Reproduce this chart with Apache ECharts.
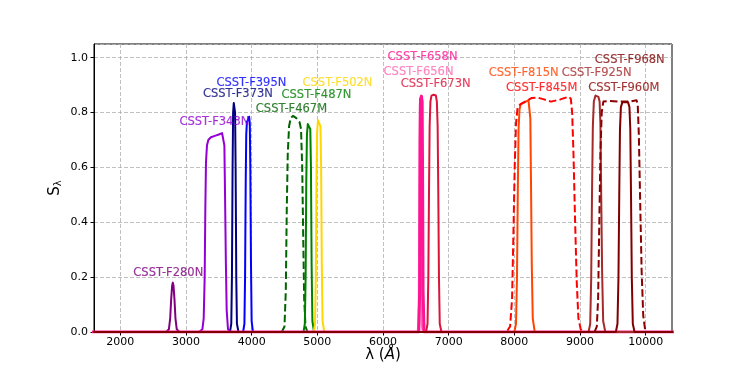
<!DOCTYPE html>
<html>
<head>
<meta charset="utf-8">
<script src="https://cdn.jsdelivr.net/npm/echarts@6/dist/echarts.min.js"></script>
<style>html,body{margin:0;padding:0;background:#fff}#c{width:747px;height:374px}</style>
</head>
<body>
<div id="c"></div>
<script>
// ---- data: wavelength (Å), throughput S ----
const xTicks = [2000, 3000, 4000, 5000, 6000, 7000, 8000, 9000, 10000];
const yTicks = [0, 0.2, 0.4, 0.6, 0.8, 1.0];

const F280N = [[2700,0],[2740,0.01],[2760,0.05],[2775,0.12],[2790,0.17],[2800,0.18],[2810,0.17],[2825,0.12],[2840,0.05],[2860,0.01],[2900,0]];
const F343N = [[3200,0],[3250,0.01],[3270,0.05],[3285,0.2],[3295,0.45],[3305,0.62],[3320,0.68],[3340,0.70],[3380,0.71],[3440,0.715],[3500,0.72],[3550,0.725],[3570,0.72],[3585,0.68],[3595,0.5],[3608,0.25],[3620,0.08],[3640,0.01],[3670,0]];
const F373N = [[3670,0],[3690,0.03],[3700,0.2],[3710,0.6],[3718,0.8],[3728,0.835],[3740,0.83],[3748,0.8],[3756,0.6],[3766,0.2],[3776,0.03],[3800,0]];
const F395N = [[3870,0],[3890,0.03],[3900,0.2],[3910,0.55],[3918,0.72],[3928,0.765],[3945,0.775],[3962,0.785],[3972,0.76],[3980,0.6],[3990,0.25],[4000,0.04],[4020,0]];
const F467M = [[4460,0],[4500,0.02],[4520,0.15],[4535,0.45],[4550,0.65],[4570,0.75],[4595,0.78],[4630,0.788],[4680,0.78],[4730,0.765],[4752,0.74],[4770,0.6],[4785,0.35],[4800,0.12],[4820,0.02],[4850,0]];
const F487N = [[4790,0],[4810,0.03],[4822,0.2],[4832,0.55],[4842,0.72],[4855,0.758],[4880,0.762],[4893,0.74],[4903,0.6],[4913,0.25],[4925,0.04],[4950,0]];
const F502N = [[4945,0],[4965,0.03],[4977,0.2],[4987,0.55],[4997,0.73],[5010,0.772],[5035,0.775],[5048,0.75],[5058,0.6],[5068,0.25],[5080,0.04],[5105,0]];
const F656N = [[6530,0],[6545,0.1],[6553,0.55],[6559,0.82],[6565,0.85],[6571,0.8],[6578,0.4],[6590,0.03],[6605,0]];
const F658N = [[6545,0],[6558,0.15],[6566,0.7],[6572,0.85],[6585,0.86],[6596,0.84],[6602,0.6],[6610,0.15],[6625,0]];
const F673N = [[6655,0],[6678,0.03],[6690,0.2],[6700,0.5],[6710,0.75],[6722,0.84],[6738,0.862],[6770,0.865],[6805,0.862],[6820,0.84],[6832,0.75],[6842,0.5],[6852,0.2],[6864,0.03],[6890,0]];
const F815N = [[8000,0],[8025,0.03],[8040,0.2],[8052,0.5],[8064,0.74],[8078,0.81],[8095,0.83],[8160,0.838],[8215,0.845],[8232,0.84],[8243,0.78],[8253,0.55],[8265,0.25],[8280,0.05],[8310,0]];
const F845M = [[7880,0],[7935,0.02],[7965,0.12],[7985,0.35],[8005,0.6],[8025,0.76],[8050,0.82],[8100,0.832],[8150,0.838],[8260,0.853],[8350,0.855],[8450,0.848],[8560,0.84],[8700,0.848],[8830,0.858],[8860,0.85],[8880,0.8],[8900,0.65],[8925,0.4],[8950,0.18],[8975,0.05],[9010,0.01],[9040,0]];
const F925N = [[9130,0],[9155,0.03],[9170,0.2],[9182,0.5],[9195,0.75],[9210,0.84],[9235,0.862],[9280,0.857],[9298,0.84],[9310,0.76],[9322,0.5],[9336,0.22],[9352,0.04],[9385,0]];
const F960M = [[9220,0],[9255,0.02],[9275,0.12],[9292,0.38],[9310,0.65],[9330,0.8],[9355,0.84],[9450,0.842],[9600,0.84],[9750,0.84],[9860,0.845],[9878,0.83],[9895,0.72],[9915,0.48],[9938,0.22],[9962,0.06],[9990,0.01],[10020,0]];
const F968N = [[9545,0],[9570,0.03],[9585,0.2],[9597,0.5],[9608,0.74],[9622,0.82],[9645,0.838],[9730,0.838],[9752,0.82],[9765,0.74],[9776,0.5],[9788,0.2],[9803,0.03],[9830,0]];

const filterNames = ['CSST-F280N','CSST-F343N','CSST-F373N','CSST-F395N','CSST-F467M','CSST-F487N','CSST-F502N','CSST-F656N','CSST-F658N','CSST-F673N','CSST-F815N','CSST-F845M','CSST-F925N','CSST-F960M','CSST-F968N'];
const filterData = [F280N,F343N,F373N,F395N,F467M,F487N,F502N,F656N,F658N,F673N,F815N,F845M,F925N,F960M,F968N];
// label anchor (λ, S) for each filter name
const labelLambda = [2731, 3433, 3791, 3996, 4606, 4987, 5307, 6541, 6602, 6801, 8142, 8416, 9254, 9666, 9757];
const labelS      = [0.215, 0.766, 0.869, 0.909, 0.814, 0.865, 0.909, 0.949, 1.004, 0.905, 0.945, 0.891, 0.945, 0.891, 0.993];

// ---- styles ----
const colors = ['#800080','#9400d3','#000080','#0000ff','#006400','#008000','#ffd700','#ff69b4','#ff1493','#dc143c','#ff4500','#ff0000','#a52a2a','#8b0000','#800000'];
const dashed = [false,false,false,false,true,false,false,false,false,false,false,true,false,true,false];
const widths = [2,2,2,2,2,2,2,2,3,2,2,2,2,2,2];

const series = [];
filterData.forEach((d, i) => {
  series.push({
    type: 'line', name: filterNames[i],
    data: [[1000,0]].concat(d).concat([[11000,0]]),
    showSymbol: false, symbol: 'none', smooth: false,
    lineStyle: { color: colors[i], width: widths[i], type: dashed[i] ? [7.5, 3.3] : 'solid', join: 'round', cap: 'butt' },
    z: 2 + i, silent: true, animation: false
  });
});
series.push({
  type: 'scatter', symbolSize: 0, silent: true, animation: false, z: 30,
  data: labelLambda.map((x, i) => ({
    value: [x, labelS[i]],
    label: { show: true, formatter: filterNames[i], color: colors[i], textBorderColor: colors[i], textBorderWidth: 0.15 }
  })),
  label: { show: true, position: 'inside', align: 'center', verticalAlign: 'middle',
           fontFamily: 'DejaVu Sans', fontSize: 11.5, textShadowBlur: 0 }
});

const chart = echarts.init(document.getElementById('c'), null, { renderer: 'canvas' });
chart.setOption({
  animation: false,
  backgroundColor: '#fff',
  grid: { left: 94, right: 75, top: 44, bottom: 42, show: true, borderColor: '#000', borderWidth: 1, backgroundColor: 'transparent' },
  xAxis: {
    type: 'value', min: 1600, max: 10400,
    name: '{l|λ (}{a|Å}{l|)}', nameLocation: 'middle', nameGap: 16, nameMoveOverlap: false,
    nameTextStyle: { verticalAlign: 'top', rich: {
      l: { fontFamily: 'DejaVu Sans', fontSize: 15, color: '#000' },
      a: { fontFamily: 'DejaVu Sans', fontSize: 15, fontStyle: 'italic', color: '#000' } } },
    axisLine: { show: true, lineStyle: { color: '#000', width: 1 } },
    axisTick: { show: true, length: 3.5, lineStyle: { color: '#000' }, customValues: xTicks },
    axisLabel: { customValues: xTicks, color: '#000', fontFamily: 'DejaVu Sans', fontSize: 11, margin: 5,
                 formatter: v => String(Math.round(v)) },
    splitLine: { show: true, lineStyle: { color: '#b0b0b0', type: [4, 2], width: 0.8 } }
  },
  yAxis: {
    type: 'value', min: 0, max: 1.05, interval: 0.2,
    name: '{s|S}{sub|λ}', nameLocation: 'middle', nameGap: 31, nameRotate: 90, nameMoveOverlap: false,
    nameTextStyle: { rich: {
      s: { fontFamily: 'DejaVu Sans', fontSize: 15, color: '#000' },
      sub: { fontFamily: 'DejaVu Sans', fontSize: 10, color: '#000', verticalAlign: 'bottom', padding: [6,0,0,0] } } },
    axisLine: { show: true, lineStyle: { color: '#000', width: 1 } },
    axisTick: { show: true, length: 3.5, lineStyle: { color: '#000' } },
    axisLabel: { showMaxLabel: false, color: '#000', fontFamily: 'DejaVu Sans', fontSize: 11, margin: 6,
                 formatter: v => v.toFixed(1) },
    splitLine: { show: true, lineStyle: { color: '#b0b0b0', type: [4, 2], width: 0.8 } }
  },
  series: series
});
</script>
</body>
</html>
